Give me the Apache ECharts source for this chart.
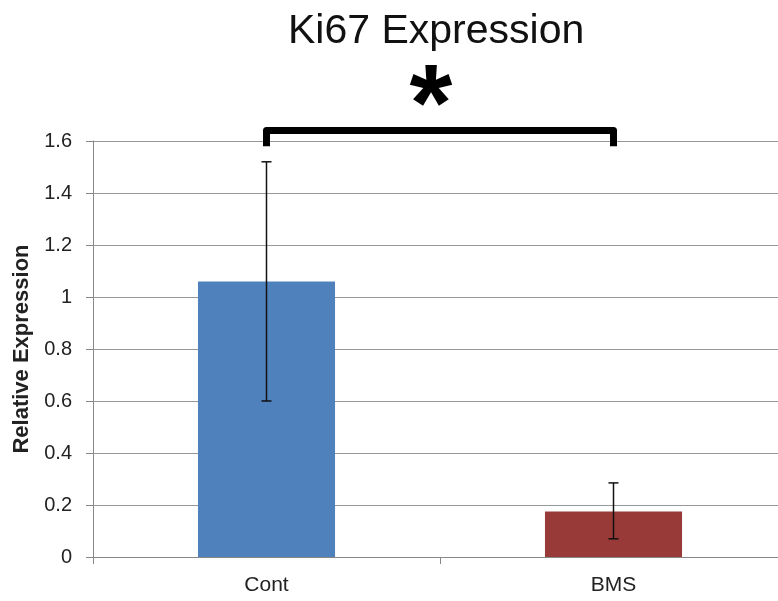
<!DOCTYPE html>
<html><head><meta charset="utf-8">
<script src="https://cdn.jsdelivr.net/npm/echarts@6/dist/echarts.min.js"></script>
<style>html,body{margin:0;padding:0;background:#fff}#c{width:778px;height:601px}</style>
</head><body><div id="c"></div>
<script>
// ---- data ----
const categories = ['Cont', 'BMS'];
const means = [1.06, 0.175];
const errLow = [0.60, 0.07];
const errHigh = [1.52, 0.285];
const barColors = ['#4F81BD', '#983A38'];
const bracketTop = 1.64;     // value of the significance bracket
const bracketLeg = 1.58;     // value where the bracket legs end
const sigMark = '*';
const titleText = 'Ki67 Expression';
const yName = 'Relative Expression';

const FONT = 'Liberation Sans, Arial, sans-serif';
const chart = echarts.init(document.getElementById('c'), null, {renderer: 'canvas'});

const option = {
  animation: false,
  backgroundColor: '#fff',
  title: {
    text: titleText, left: 283, top: 6,
    textStyle: {fontFamily: FONT, fontSize: 41, fontWeight: 'normal', color: '#111'}
  },
  grid: {left: 93, right: -9, top: 141, bottom: 44, outerBoundsMode: 'none', containLabel: false},
  xAxis: {
    type: 'category', data: categories,
    axisLine: {lineStyle: {color: '#888', width: 1}},
    axisTick: {show: true, length: 7, lineStyle: {color: '#888'}},
    axisLabel: {margin: 18, fontSize: 21, color: '#222', fontFamily: FONT},
    splitLine: {show: false}
  },
  yAxis: {
    type: 'value', min: 0, max: 1.6, interval: 0.2,
    name: yName, nameLocation: 'middle', nameRotate: 90, nameGap: 58,
    nameTextStyle: {fontSize: 22, fontWeight: 'bold', color: '#222', fontFamily: FONT},
    axisLine: {show: true, lineStyle: {color: '#888', width: 1}},
    axisTick: {show: true, length: 7, lineStyle: {color: '#888'}},
    axisLabel: {margin: 21, fontSize: 20, color: '#222', fontFamily: FONT},
    splitLine: {show: true, lineStyle: {color: '#999', width: 1}}
  },
  series: [
    {
      type: 'bar', barWidth: '39.5%',
      data: means.map((v, i) => ({value: v, itemStyle: {color: barColors[i]}}))
    },
    {
      type: 'custom', z: 10, clip: false,
      data: categories.map((c, i) => [i, errLow[i], errHigh[i]]),
      renderItem(params, api) {
        const x = api.value(0);
        const lo = api.coord([x, api.value(1)]);
        const hi = api.coord([x, api.value(2)]);
        const cap = 5;
        const st = {stroke: '#111', lineWidth: 1.5};
        return {type: 'group', children: [
          {type: 'line', shape: {x1: lo[0], y1: lo[1], x2: hi[0], y2: hi[1]}, style: st},
          {type: 'line', shape: {x1: hi[0] - cap, y1: hi[1], x2: hi[0] + cap, y2: hi[1]}, style: st},
          {type: 'line', shape: {x1: lo[0] - cap, y1: lo[1], x2: lo[0] + cap, y2: lo[1]}, style: st}
        ]};
      }
    },
    {
      type: 'custom', z: 10, clip: false,
      data: [[0, 1, bracketTop, bracketLeg]],
      renderItem(params, api) {
        const a = api.coord([api.value(0), api.value(2)]);
        const b = api.coord([api.value(1), api.value(2)]);
        const aL = api.coord([api.value(0), api.value(3)]);
        const bL = api.coord([api.value(1), api.value(3)]);
        const midX = (a[0] + b[0]) / 2;
        return {type: 'group', children: [
          {type: 'polyline', shape: {points: [aL, a, b, bL]},
           style: {stroke: '#000', lineWidth: 7, fill: null, lineJoin: 'round', lineCap: 'butt'}},
          {type: 'text', x: midX - 9, y: a[1] - 76,
           style: {text: sigMark, font: 'bold 110px ' + FONT, fill: '#000', align: 'center', verticalAlign: 'top'}}
        ]};
      }
    }
  ]
};
chart.setOption(option);
</script>
</body></html>
